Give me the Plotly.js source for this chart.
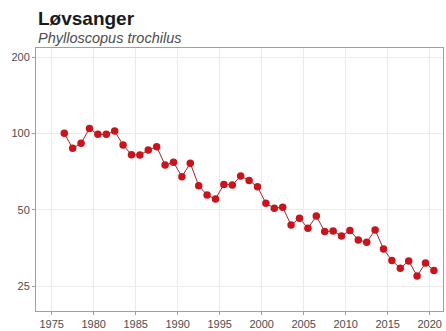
<!DOCTYPE html>
<html>
<head>
<meta charset="utf-8">
<script src="https://cdn.plot.ly/plotly-3.0.1.min.js"></script>
<style>
  html, body { margin: 0; padding: 0; background: #ffffff; }
  #chart { width: 446px; height: 331px; }
</style>
</head>
<body>
<div id="chart"></div>
<script>
const titleText = "Løvsanger";
const subtitleText = "Phylloscopus trochilus";

const years = [1976, 1977, 1978, 1979, 1980, 1981, 1982, 1983, 1984, 1985,
               1986, 1987, 1988, 1989, 1990, 1991, 1992, 1993, 1994, 1995,
               1996, 1997, 1998, 1999, 2000, 2001, 2002, 2003, 2004, 2005,
               2006, 2007, 2008, 2009, 2010, 2011, 2012, 2013, 2014, 2015,
               2016, 2017, 2018, 2019, 2020];

const indexValues = [100, 87.3, 91.3, 104.6, 99.1, 99.1, 102.1, 89.9, 82.4, 82.1,
                     86.0, 88.6, 75.0, 76.9, 67.5, 76.2, 62.2, 57.1, 55.1, 62.9,
                     62.6, 67.9, 65.1, 61.6, 53.0, 50.7, 51.1, 43.5, 46.3, 42.2,
                     47.2, 41.0, 41.2, 39.4, 41.4, 38.0, 37.2, 41.6, 35.0, 31.5,
                     29.4, 31.4, 27.4, 30.8, 28.8];

const yTickVals = [25, 50, 100, 200];

// each yearly index is drawn at mid-year on a date axis
const xDates = years.map(y => y + "-07-01");

const trace = {
  x: xDates,
  y: indexValues,
  type: "scatter",
  mode: "lines+markers",
  line: { color: "#a3262a", width: 1 },
  marker: { color: "#c8141c", size: 7.5 },
  hoverinfo: "x+y"
};

const gridColor = "#ebebeb";
const frameColor = "#a0a0a0";

const layout = {
  width: 446,
  height: 331,
  margin: { l: 36, r: 3, t: 48, b: 20, pad: 0 },
  paper_bgcolor: "#ffffff",
  plot_bgcolor: "#ffffff",
  showlegend: false,
  font: { family: "Liberation Sans, Arial, sans-serif", color: "#4d4d4d", size: 11 },
  xaxis: {
    type: "date",
    range: ["1973-02-17", "2021-07-31"],
    tick0: "1975-01-01",
    dtick: "M60",
    tickformat: "%Y",
    showgrid: true,
    gridcolor: gridColor,
    gridwidth: 1,
    zeroline: false,
    showline: true,
    linecolor: frameColor,
    linewidth: 1,
    mirror: true,
    ticks: "outside",
    ticklen: 3,
    tickcolor: frameColor,
    tickfont: { size: 11, color: "#4d4d4d" }
  },
  yaxis: {
    type: "log",
    range: [1.2994, 2.3366],
    tickvals: yTickVals,
    ticktext: yTickVals.map(String),
    showgrid: true,
    gridcolor: gridColor,
    gridwidth: 1,
    zeroline: false,
    showline: true,
    linecolor: frameColor,
    linewidth: 1,
    mirror: true,
    ticks: "outside",
    ticklen: 3,
    tickcolor: frameColor,
    tickfont: { size: 11, color: "#4d4d4d" }
  },
  annotations: [
    {
      text: "<b>" + titleText + "</b>",
      xref: "paper", yref: "paper",
      x: 0, y: 1.111,
      xanchor: "left", yanchor: "middle",
      showarrow: false,
      font: { size: 19, color: "#1a1a1a", family: "Liberation Sans, Arial, sans-serif" }
    },
    {
      text: "<i>" + subtitleText + "</i>",
      xref: "paper", yref: "paper",
      x: 0, y: 1.038,
      xanchor: "left", yanchor: "middle",
      showarrow: false,
      font: { size: 14.5, color: "#4d4d4d", family: "Liberation Sans, Arial, sans-serif" }
    }
  ]
};

Plotly.newPlot("chart", [trace], layout, { displayModeBar: false, staticPlot: true });
</script>
</body>
</html>
